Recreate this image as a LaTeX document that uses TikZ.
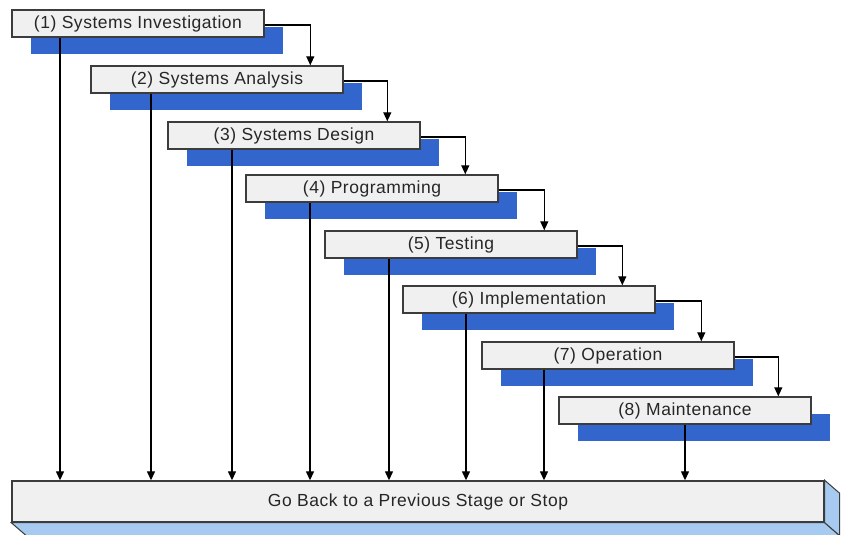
\documentclass[tikz,border=0pt]{standalone}
\usepackage{fontspec}
\setmainfont[LetterSpace=3]{Liberation Sans}
\usetikzlibrary{arrows.meta,shadows}
\definecolor{stageblue}{RGB}{51,102,204}
\definecolor{stagegray}{RGB}{240,240,240}
\definecolor{barblue}{RGB}{166,202,240}
\definecolor{edgegray}{RGB}{60,60,60}
\tikzset{
  stage/.style={draw=edgegray, fill=stagegray, line width=1.4pt, minimum width=252pt, minimum height=27pt, inner sep=0pt, text=black!85, font=\fontsize{17.5}{20}\selectfont, general shadow={fill=stageblue, shadow xshift=19pt, shadow yshift=-17pt}},
  flow/.style={-{Triangle[length=9pt,width=8pt]}, line width=1.3pt, black},
}
\begin{document}
\begin{tikzpicture}[x=1pt,y=-1pt]
    \useasboundingbox (0,0) rectangle (844,535);
    % Stages %
    \node[stage] (s1) at (138,23.5) {(1) Systems Investigation};
    \node[stage] (s2) at (217,79.5) {(2) Systems Analysis};
    \node[stage] (s3) at (294,135.5) {(3) Systems Design};
    \node[stage] (s4) at (372,188.5) {(4) Programming};
    \node[stage] (s5) at (451,244.5) {(5) Testing};
    \node[stage] (s6) at (529,299.5) {(6) Implementation};
    \node[stage] (s7) at (608,355.5) {(7) Operation};
    \node[stage] (s8) at (685,410.5) {(8) Maintenance};

    % Bottom bar %
    \node[draw=edgegray, fill=stagegray, line width=1.4pt, minimum width=812pt, minimum height=41pt, inner sep=0pt, text=black!85, font=\fontsize{17.5}{20}\selectfont] (bar) at (418,501.5) {Go Back to a Previous Stage or Stop};
    \filldraw[fill=barblue, draw=edgegray, line width=1pt] (bar.south west) -- (bar.south east) -- ++(15,13) -- ([shift={(15,13)}]bar.south west) -- cycle;
    \filldraw[fill=barblue, draw=edgegray, line width=1pt] (bar.north east) -- ++(15,13) -- ([shift={(15,13)}]bar.south east) -- (bar.south east) -- cycle;

    % Next stage %
    \draw[flow] ([yshift=-1.5pt]s1.east) -| ([xshift=220pt]s2.north west);
    \draw[flow] ([yshift=-1.5pt]s2.east) -| ([xshift=220pt]s3.north west);
    \draw[flow] ([yshift=-1.5pt]s3.east) -| ([xshift=220pt]s4.north west);
    \draw[flow] ([yshift=-1.5pt]s4.east) -| ([xshift=220pt]s5.north west);
    \draw[flow] ([yshift=-1.5pt]s5.east) -| ([xshift=220pt]s6.north west);
    \draw[flow] ([yshift=-1.5pt]s6.east) -| ([xshift=220pt]s7.north west);
    \draw[flow] ([yshift=-1.5pt]s7.east) -| ([xshift=220pt]s8.north west);

    % Back or stop %
    \draw[flow] (s1.south -| 60,0) -- (bar.north -| 60,0);
    \draw[flow] (s2.south -| 151,0) -- (bar.north -| 151,0);
    \draw[flow] (s3.south -| 232,0) -- (bar.north -| 232,0);
    \draw[flow] (s4.south -| 310,0) -- (bar.north -| 310,0);
    \draw[flow] (s5.south -| 389,0) -- (bar.north -| 389,0);
    \draw[flow] (s6.south -| 466,0) -- (bar.north -| 466,0);
    \draw[flow] (s7.south -| 544,0) -- (bar.north -| 544,0);
    \draw[flow] (s8.south) -- (s8.south |- bar.north);
\end{tikzpicture}
\end{document}
